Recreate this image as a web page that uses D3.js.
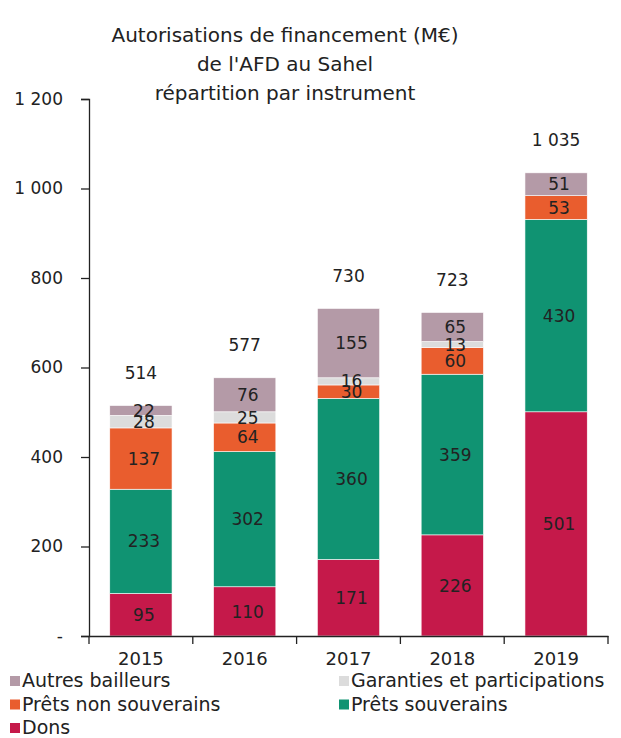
<!DOCTYPE html>
<html>
<meta charset="utf-8">
<head>
    <script src="https://d3js.org/d3.v7.min.js"></script>
    <style>
        body { margin: 0; background: white; }
        text { font-family: "DejaVu Sans", sans-serif; fill: #222; }
    </style>
</head>
<body>
    <script>

        var years = ["2015", "2016", "2017", "2018", "2019"];
        var dons = [95, 110, 171, 226, 501];
        var pretsSouv = [233, 302, 360, 359, 430];
        var pretsNonSouv = [137, 64, 30, 60, 53];
        var garanties = [28, 25, 16, 13, 0];
        var autres = [22, 76, 155, 65, 51];
        var totals = [514, 577, 730, 723, 1035];
        var yTicks = [0, 200, 400, 600, 800, 1000, 1200];

        var series = [
            { key: "Dons", values: dons, color: "#c5194a" },
            { key: "Prêts souverains", values: pretsSouv, color: "#109372" },
            { key: "Prêts non souverains", values: pretsNonSouv, color: "#e95d2e" },
            { key: "Garanties et participations", values: garanties, color: "#dcdcdc" },
            { key: "Autres bailleurs", values: autres, color: "#b49aa7" }
        ];

        var width = 621,
            height = 738;

        var svg = d3.select("body").append("svg")
            .attr("width", width)
            .attr("height", height);

        // title
        var titleLines = ["Autorisations de financement (M€)", "de l'AFD au Sahel", "répartition par instrument"];
        svg.selectAll(".title")
            .data(titleLines)
            .enter()
            .append("text")
            .attr("class", "title")
            .attr("x", 285)
            .attr("y", (d, i) => 42 + i * 29)
            .attr("text-anchor", "middle")
            .attr("font-size", 20)
            .attr("fill", "#333")
            .text(d => d);

        var x = d3.scaleBand()
            .domain(years)
            .range([89, 608])
            .paddingInner(0.4)
            .paddingOuter(0.2);

        var y = d3.scaleLinear()
            .domain([0, 1200])
            .range([636, 99]);

        var fmt = function(v) {
            if (v === 0) return "-";
            return d3.format(",")(v).replace(/,/g, " ");
        };

        // table for stacking
        var table = years.map(function(yr, i) {
            var row = { year: yr };
            series.forEach(s => row[s.key] = s.values[i]);
            return row;
        });

        var stack = d3.stack().keys(series.map(s => s.key));
        var layers = stack(table);

        var g = svg.append("g");

        layers.forEach(function(layer, li) {
            g.selectAll(".bar" + li)
                .data(layer)
                .enter()
                .append("rect")
                .attr("x", d => x(d.data.year))
                .attr("y", d => y(d[1]))
                .attr("width", x.bandwidth())
                .attr("height", d => y(d[0]) - y(d[1]))
                .attr("fill", series[li].color)
                .attr("stroke", "white")
                .attr("stroke-width", 0.6);
        });

        layers.forEach(function(layer, li) {
            g.selectAll(".lab" + li)
                .data(layer.filter(d => d[1] - d[0] > 0))
                .enter()
                .append("text")
                .attr("x", d => x(d.data.year) + x.bandwidth() / 2 + 3)
                .attr("y", d => y((d[0] + d[1]) / 2))
                .attr("dy", "0.36em")
                .attr("text-anchor", "middle")
                .attr("font-size", 17)
                .attr("fill", "#111")
                .text(d => fmt(d[1] - d[0]));
        });

        // totals
        g.selectAll(".total")
            .data(years)
            .enter()
            .append("text")
            .attr("x", d => x(d) + x.bandwidth() / 2)
            .attr("y", (d, i) => y(d3.sum(series, s => s.values[i])) - 33)
            .attr("dy", "0.36em")
            .attr("text-anchor", "middle")
            .attr("font-size", 17)
            .attr("fill", "#333")
            .text((d, i) => fmt(totals[i]));

        // y axis
        var yAxis = d3.axisLeft(y)
            .tickValues(yTicks)
            .tickSize(8)
            .tickPadding(18)
            .tickFormat(fmt);

        var ya = svg.append("g")
            .attr("transform", "translate(89,0)")
            .call(yAxis);
        ya.select(".domain").attr("stroke", "#222").attr("stroke-width", 1.3);
        ya.selectAll(".tick line").attr("stroke", "#222").attr("stroke-width", 1.3);
        ya.selectAll(".tick text")
            .attr("font-size", 17)
            .attr("font-family", "DejaVu Sans")
            .attr("fill", "#333");

        // x axis
        var xAxis = d3.axisBottom(x)
            .tickSize(0)
            .tickPadding(16);
        var xa = svg.append("g")
            .attr("transform", "translate(0,636)")
            .call(xAxis);
        xa.select(".domain").attr("stroke", "#222").attr("stroke-width", 1.3);
        xa.selectAll(".tick text")
            .attr("font-size", 18)
            .attr("font-family", "DejaVu Sans")
            .attr("fill", "#333");

        // category boundary ticks
        var bx = d3.scaleLinear().domain([0, years.length]).range([89, 608]);
        xa.selectAll(".sep")
            .data(d3.range(years.length + 1))
            .enter()
            .append("line")
            .attr("x1", d => bx(d))
            .attr("x2", d => bx(d))
            .attr("y1", 0)
            .attr("y2", 8)
            .attr("stroke", "#222")
            .attr("stroke-width", 1.3);

        // legend
        var legendOrder = [
            series[4], series[3],
            series[2], series[1],
            series[0]
        ];
        var lg = svg.selectAll(".leg")
            .data(legendOrder)
            .enter()
            .append("g")
            .attr("transform", (d, i) => "translate(" + (i % 2 === 0 ? 10 : 339) + "," + (681 + Math.floor(i / 2) * 23.5) + ")");
        lg.append("rect")
            .attr("x", 0)
            .attr("y", -5)
            .attr("width", 10)
            .attr("height", 10)
            .attr("fill", d => d.color);
        lg.append("text")
            .attr("x", 12)
            .attr("y", 0)
            .attr("dy", "0.34em")
            .attr("font-size", 19)
            .attr("fill", "#333")
            .text(d => d.key);

    </script>
</body>
</html>
